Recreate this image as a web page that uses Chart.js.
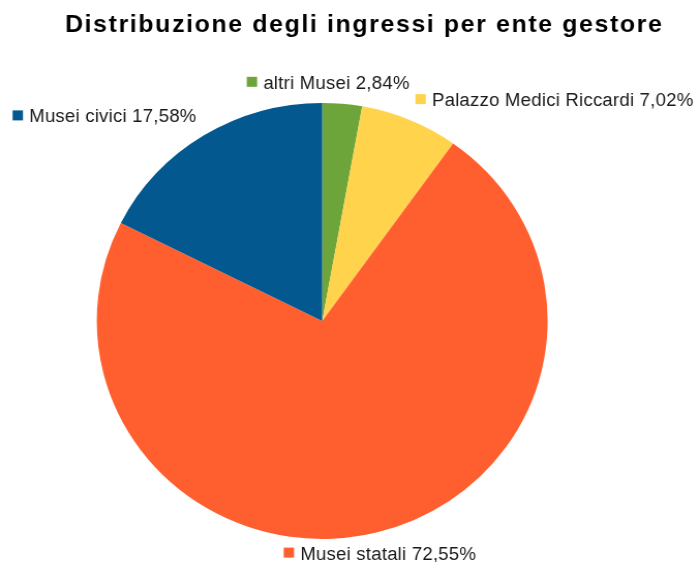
<!DOCTYPE html>
<html>
<head>
<meta charset="utf-8">
<script src="https://cdn.jsdelivr.net/npm/chart.js@4/dist/chart.umd.min.js"></script>
<style>
  html, body { margin: 0; padding: 0; background: #ffffff; overflow: hidden; }
  #wrap { width: 676px; height: 562px; transform: scaleX(1.034); transform-origin: 0 0; }
  canvas { display: block; }
</style>
</head>
<body>
<div id="wrap"><canvas id="c" width="676" height="562"></canvas></div>
<script>
// ---- data ----
const chartTitle = "Distribuzione degli ingressi per ente gestore";
const categories = ["altri Musei", "Palazzo Medici Riccardi", "Musei statali", "Musei civici"];
const shares = [2.84, 7.02, 72.55, 17.58];
const sliceColors = ["#6ea53a", "#ffd34b", "#ff5f2e", "#02588f"];

function fmt(v) { return v.toFixed(2).replace(".", ","); }

function spacedWidth(ctx, text, sp) {
  let w = 0;
  for (const ch of text) w += ctx.measureText(ch).width + sp;
  return w - sp;
}
function drawSpaced(ctx, text, x, y, sp) {
  for (const ch of text) { ctx.fillText(ch, x, y); x += ctx.measureText(ch).width + sp; }
}

const labelPlugin = {
  id: "outLabels",
  afterDraw(chart, args, opts) {
    const ctx = chart.ctx;
    ctx.save();
    ctx.textBaseline = "alphabetic";
    ctx.textAlign = "left";
    // title
    ctx.fillStyle = "#000";
    ctx.font = "bold 24px 'Liberation Sans', Arial, sans-serif";
    const tw = spacedWidth(ctx, chartTitle, opts.titleSpacing);
    drawSpaced(ctx, chartTitle, opts.titleCenterX - tw / 2, opts.titleBaseline, opts.titleSpacing);

    // slice labels
    ctx.font = "18px 'Liberation Sans', Arial, sans-serif";
    const meta = chart.getDatasetMeta(0);
    meta.data.forEach((arc, i) => {
      const p = arc.getProps(["x", "y", "startAngle", "endAngle", "outerRadius"], true);
      const mid = (p.startAngle + p.endAngle) / 2;
      const R = p.outerRadius + opts.gap;
      const ax = p.x + Math.cos(mid) * R + (opts.nudge[i] || 0);
      const ay = p.y + Math.sin(mid) * R;
      const text = categories[i] + " " + fmt(shares[i]) + "%";
      const txtW = spacedWidth(ctx, text, opts.labelSpacing);
      const box = opts.square + opts.squareGap + txtW;
      const c = Math.cos(mid), s = Math.sin(mid);
      let left;
      if (Math.abs(c) < 0.3) left = ax - box / 2;
      else if (c > 0) left = ax;
      else left = ax - box;
      const base = s < 0 ? ay - 1 : ay + 13.5;
      ctx.fillStyle = sliceColors[i];
      ctx.fillRect(left, base - 12, opts.square, opts.square);
      ctx.fillStyle = "#1a1a1a";
      drawSpaced(ctx, text, left + opts.square + opts.squareGap, base, opts.labelSpacing);
    });
    ctx.restore();
  }
};

new Chart(document.getElementById("c"), {
  type: "pie",
  data: {
    labels: categories,
    datasets: [{
      data: shares,
      backgroundColor: sliceColors,
      borderWidth: 0,
      hoverOffset: 0
    }]
  },
  options: {
    responsive: false,
    devicePixelRatio: 1,
    animation: false,
    events: [],
    layout: { padding: { left: 93.6, top: 102.9, right: 146.4, bottom: 23.1 } },
    plugins: {
      legend: { display: false },
      title: { display: false },
      tooltip: { enabled: false },
      outLabels: {
        gap: 14,
        nudge: [-15, 0, 0, 0],
        square: 10,
        squareGap: 6,
        labelSpacing: 0.2,
        titleSpacing: 1.6,
        titleCenterX: 351.5,
        titleBaseline: 32
      }
    }
  },
  plugins: [labelPlugin]
});
</script>
</body>
</html>
